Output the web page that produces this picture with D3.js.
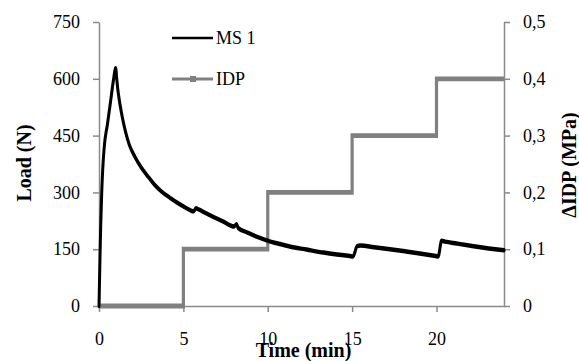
<!DOCTYPE html>
<html>
<head>
<meta charset="utf-8">
<script src="https://cdn.jsdelivr.net/npm/d3@7"></script>
<style>
  html, body { margin: 0; padding: 0; background: #fff; }
  svg { display: block; }
</style>
</head>
<body>
<svg id="chart" width="579" height="361"></svg>
<script>
// ---- Data ----
const loadTime = [0,0.05,0.1,0.16,0.22,0.31,0.5,0.7,0.85,0.99,1.05,1.12,1.2,1.3,1.42,1.56,1.8,2.13,2.5,2.92,3.3,3.71,4.2,4.7,5.0,5.4,5.6,5.75,5.9,6.3,6.8,7.37,8.0,8.15,8.25,8.8,9.34,10.03,10.6,11.3,12.3,13.3,14.1,14.87,15.05,15.3,15.5,16.3,17.24,18.2,19.1,19.95,20.1,20.3,20.5,21.2,22.2,23.1,24];
const loadValue = [0,110,210,298,360,420,480,545,595,628,600,570,545,518,490,462,425,394,366,341,320,302,286,271,263,253,250,258,255,246,235,223,210,216,206,194,183,172,165,157,149,141,136,132,131,158,160,155,150,144,138,132,131,172,170,165,158,152,147];
const idpTime = [0,5,5,10,10,15,15,20,20,24];
const idpValue = [0,0,0.1,0.1,0.2,0.2,0.3,0.3,0.4,0.4];
const xTicks = [0,5,10,15,20];
const yLeftTicks = [0,150,300,450,600,750];
const yRightTicks = [0,0.1,0.2,0.3,0.4,0.5];
const seriesNames = ["MS 1","IDP"];
const xLabel = "Time (min)";
const yLeftLabel = "Load (N)";
const yRightLabel = "\u0394IDP (MPa)";

// ---- Layout ----
const W = 579, H = 361;
const m = {left: 99, right: 75, top: 22, bottom: 55};
const FONT = '"Liberation Serif"';
const svg = d3.select("#chart");
const x = d3.scaleLinear().domain([0,24]).range([m.left, W - m.right]);
const yL = d3.scaleLinear().domain([0,750]).range([H - m.bottom, m.top]);
const yR = d3.scaleLinear().domain([0,0.5]).range([H - m.bottom, m.top]);
const axisColor = "#8a8a8a";
const fmtR = d => d === 0 ? "0" : d3.format(".1f")(d).replace(".", ",");

function styleAxis(g) {
  g.attr("font-family", null).attr("font-size", null);
  g.selectAll(".domain").attr("stroke", axisColor).attr("stroke-width", 1.5);
  g.selectAll(".tick line").attr("stroke", axisColor).attr("stroke-width", 1.5);
  g.selectAll(".tick text").style("font-family", FONT).style("font-size", "18px").attr("fill", "#000");
}

svg.append("g").attr("transform", `translate(0,${H - m.bottom})`)
  .call(d3.axisBottom(x).tickValues(xTicks).tickSize(6).tickPadding(20).tickSizeOuter(0))
  .call(styleAxis);
svg.append("g").attr("transform", `translate(${m.left},0)`)
  .call(d3.axisLeft(yL).tickValues(yLeftTicks).tickSize(6).tickPadding(13).tickSizeOuter(0))
  .call(styleAxis);
svg.append("g").attr("transform", `translate(${W - m.right},0)`)
  .call(d3.axisRight(yR).tickValues(yRightTicks).tickFormat(fmtR).tickSize(6).tickPadding(13).tickSizeOuter(0))
  .call(styleAxis);

// ---- Series (drawn in a vertically scaled group so near-horizontal strokes look heavier, as in the reference) ----
const k = 1.5;
const plot = svg.append("g").attr("transform", `scale(1,${k})`);
const yLs = yL.copy().range(yL.range().map(v => v / k));
const yRs = yR.copy().range(yR.range().map(v => v / k));

const idpLine = d3.line().x((d,i) => x(idpTime[i])).y(d => yRs(d));
plot.append("path").datum(idpValue)
  .attr("d", idpLine).attr("fill", "none")
  .attr("stroke", "#808080").attr("stroke-width", 3.2).attr("stroke-linejoin", "miter");

const loadLine = d3.line().x((d,i) => x(loadTime[i])).y(d => yLs(d)).curve(d3.curveMonotoneX);
plot.append("path").datum(loadValue)
  .attr("d", loadLine).attr("fill", "none")
  .attr("stroke", "#000").attr("stroke-width", 3).attr("stroke-linejoin", "round").attr("stroke-linecap", "round");

// ---- Labels ----
function label(t, transform, size) {
  return svg.append("text").attr("transform", transform)
    .attr("text-anchor", "middle")
    .style("font-family", FONT).style("font-weight", "bold").style("font-size", size + "px")
    .attr("fill", "#000").text(t);
}
label(xLabel, `translate(${(m.left + W - m.right)/2 + 2},357)`, 20);
label(yLeftLabel, "translate(31,163) rotate(-90)", 20);
label(yRightLabel, "translate(576,165) rotate(-90)", 20);

// ---- Legend ----
const lg = svg.append("g");
lg.append("line").attr("x1", 172).attr("x2", 213).attr("y1", 38).attr("y2", 38)
  .attr("stroke", "#000").attr("stroke-width", 2.5);
lg.append("text").attr("x", 216).attr("y", 44)
  .style("font-family", FONT).style("font-size", "18px").attr("fill", "#000").text(seriesNames[0]);
lg.append("line").attr("x1", 172).attr("x2", 213).attr("y1", 79).attr("y2", 79)
  .attr("stroke", "#808080").attr("stroke-width", 3);
lg.append("rect").attr("x", 190).attr("y", 76).attr("width", 6).attr("height", 6).attr("fill", "#808080");
lg.append("text").attr("x", 216).attr("y", 85)
  .style("font-family", FONT).style("font-size", "18px").attr("fill", "#000").text(seriesNames[1]);
</script>
</body>
</html>
